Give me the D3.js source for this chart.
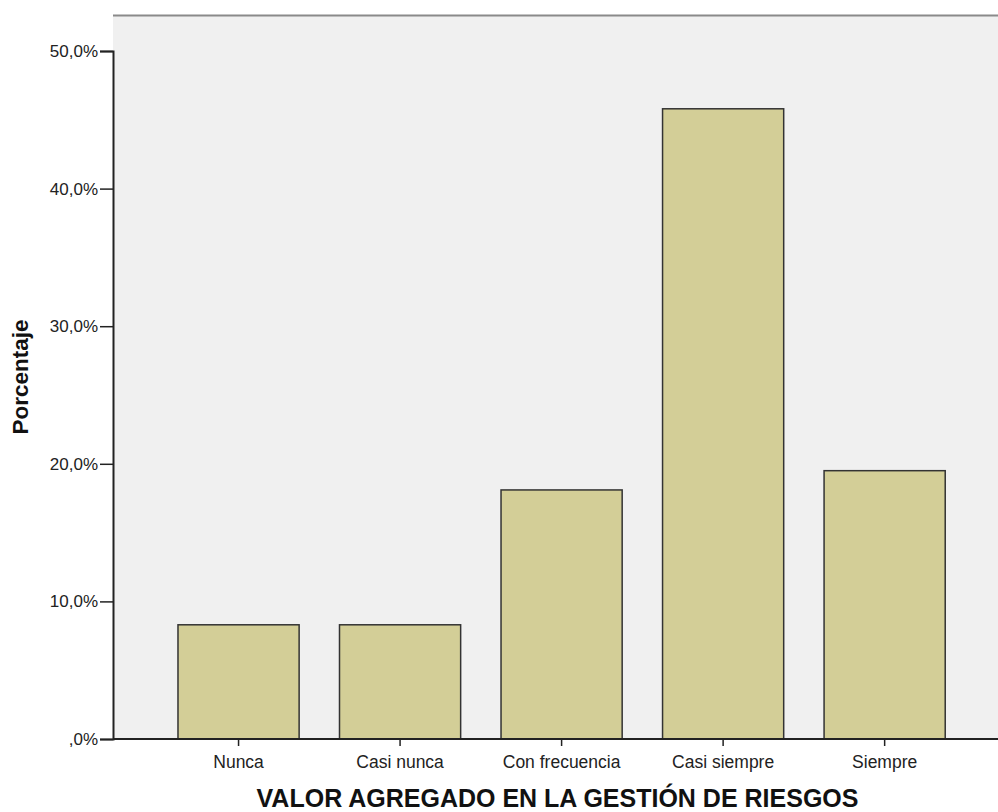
<!DOCTYPE html>
<html><head><meta charset="utf-8">
<script src="https://cdn.jsdelivr.net/npm/d3@7"></script>
<style>body{margin:0;background:#fff}svg{display:block}</style>
</head><body>
<svg id="c" width="998" height="812"></svg>
<script>
const categories = ["Nunca","Casi nunca","Con frecuencia","Casi siempre","Siempre"];
const values = [8.3, 8.3, 18.1, 45.8, 19.5];
const yTicks = [0,10,20,30,40,50];
const yTickLabels = [",0%","10,0%","20,0%","30,0%","40,0%","50,0%"];
const xTitle = "VALOR AGREGADO EN LA GESTIÓN DE RIESGOS";
const yTitle = "Porcentaje";

(function(){
const svg = d3.select("#c");
const pL = 113, pR = 998, pT = 15, pB = 739;
const font = "'Liberation Sans', Arial, sans-serif";

const x = d3.scaleBand().domain(categories).range([137.6, 985.6]).paddingInner(0.25).paddingOuter(0.25);
const y = d3.scaleLinear().domain([0, 50]).range([pB, 51]);

svg.append("rect").attr("x", pL).attr("y", pT).attr("width", pR-pL).attr("height", pB-pT).attr("fill", "#f0f0f0");
svg.append("line").attr("x1", pL).attr("x2", pR).attr("y1", pT+0.5).attr("y2", pT+0.5).attr("stroke", "#8a8a8a").attr("stroke-width", 2);

svg.append("g").selectAll("rect").data(values).join("rect")
  .attr("x", (d,i) => x(categories[i]))
  .attr("y", d => y(d))
  .attr("width", x.bandwidth())
  .attr("height", d => pB - y(d))
  .attr("fill", "#d3ce97")
  .attr("stroke", "#333")
  .attr("stroke-width", 1.5);

const yAxis = d3.axisLeft(y).tickValues(yTicks).tickFormat((d,i) => yTickLabels[i]).tickSize(13).tickPadding(2);
const gy = svg.append("g").attr("transform", `translate(${pL},0)`).call(yAxis);
gy.select(".domain").attr("stroke", "#222").attr("stroke-width", 2);
gy.selectAll(".tick line").attr("stroke", "#222").attr("stroke-width", 1.5);
gy.selectAll(".tick text").attr("font-family", font).attr("font-size", 17).attr("fill", "#222");

const xAxis = d3.axisBottom(x).tickSize(7).tickPadding(10).tickSizeOuter(0);
const gx = svg.append("g").attr("transform", `translate(0,${pB})`).call(xAxis);
gx.select(".domain").remove();
gx.append("line").attr("x1", pL).attr("x2", pR).attr("y1", 0).attr("y2", 0).attr("stroke", "#222").attr("stroke-width", 2);
gx.selectAll(".tick line").attr("stroke", "#222").attr("stroke-width", 1.5);
gx.selectAll(".tick text").attr("font-family", font).attr("font-size", 17.5).attr("fill", "#222");

svg.append("text").attr("x", (pL+pR)/2 + 2).attr("y", 807).attr("text-anchor", "middle")
  .attr("font-family", font).attr("font-weight", "bold").attr("font-size", 25).attr("fill", "#111").text(xTitle);
svg.append("text").attr("transform", `translate(28,${(pT+pB)/2}) rotate(-90)`).attr("text-anchor", "middle")
  .attr("font-family", font).attr("font-weight", "bold").attr("font-size", 22.5).attr("fill", "#111").text(yTitle);
})();
</script>
</body></html>
